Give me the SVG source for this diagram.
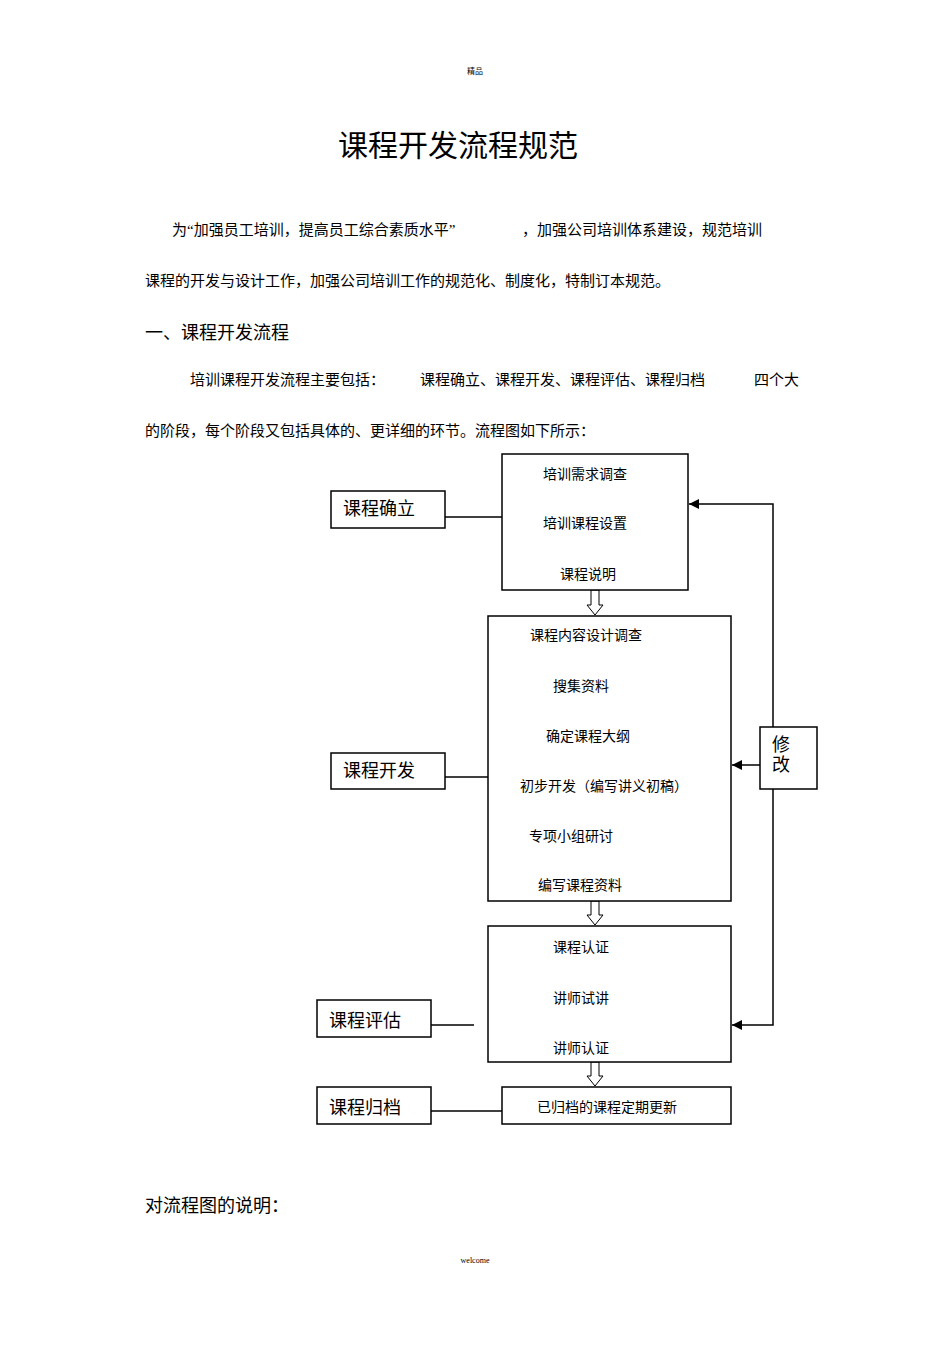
<svg xmlns="http://www.w3.org/2000/svg" width="950" height="1345" viewBox="0 0 950 1345">
<style>
text{font-family:"Liberation Serif","Noto Sans CJK SC",serif;fill:#000}
.s{font-size:14px}.m{font-size:15px}.l{font-size:18px}.t{font-size:30px}
.b{fill:#fff;stroke:#000;stroke-width:1.5}
.n{stroke:#000;stroke-width:1.5;fill:none}
.h{fill:#fff;stroke:#000;stroke-width:1}
</style>
<defs><marker id="a" viewBox="0 0 10 10" refX="10" refY="5" markerWidth="10" markerHeight="10" markerUnits="userSpaceOnUse" orient="auto"><path d="M0,0L10,5L0,10z" fill="#000"/></marker></defs>
<text x="475" y="74" font-size="8" text-anchor="middle">精品</text>
<text x="458" y="156" class="t" text-anchor="middle">课程开发流程规范</text>
<text x="172" y="235" class="m">为“加强员工培训，提高员工综合素质水平”</text>
<text x="522" y="235" class="m">，加强公司培训体系建设，规范培训</text>
<text x="145" y="286" class="m">课程的开发与设计工作，加强公司培训工作的规范化、制度化，特制订本规范。</text>
<text x="145" y="339" class="l">一、课程开发流程</text>
<text x="190" y="385" class="m">培训课程开发流程主要包括：</text>
<text x="420" y="385" class="m">课程确立、课程开发、课程评估、课程归档</text>
<text x="754" y="385" class="m">四个大</text>
<text x="145" y="436" class="m">的阶段，每个阶段又包括具体的、更详细的环节。流程图如下所示：</text>
<g id="connectors">
<line x1="445" y1="517" x2="502" y2="517" class="n" stroke-width="1"/>
<line x1="445" y1="777" x2="488" y2="777" class="n" stroke-width="1"/>
<line x1="431" y1="1025" x2="474" y2="1025" class="n" stroke-width="1"/>
<line x1="431" y1="1111" x2="502" y2="1111" class="n" stroke-width="2.5"/>
<polyline points="773,727 773,504 689,504" class="n" stroke-width="2.5" marker-end="url(#a)"/>
<polyline points="773,789 773,1025 732,1025" class="n" stroke-width="2.5" marker-end="url(#a)"/>
<line x1="760" y1="765" x2="732" y2="765" class="n" marker-end="url(#a)"/>
<line x1="588" y1="478" x2="588" y2="503" class="n" marker-end="url(#a)"/>
<line x1="588" y1="527" x2="588" y2="553" class="n" marker-end="url(#a)"/>
<line x1="588" y1="640" x2="588" y2="665" class="n" marker-end="url(#a)"/>
<line x1="588" y1="690" x2="588" y2="714" class="n" marker-end="url(#a)"/>
<line x1="588" y1="742" x2="588" y2="766" class="n" marker-end="url(#a)"/>
<line x1="588" y1="792" x2="588" y2="815" class="n" marker-end="url(#a)"/>
<line x1="588" y1="842" x2="588" y2="864" class="n" marker-end="url(#a)"/>
<line x1="589" y1="963" x2="589" y2="988" class="n" marker-end="url(#a)"/>
<line x1="589" y1="1013" x2="589" y2="1038" class="n" marker-end="url(#a)"/>
<path d="M591,590V605H587L595,615L603,605H599V590Z" class="h"/>
<path d="M591,901V915H587L595,925L603,915H599V901Z" class="h"/>
<path d="M591,1062V1076H587L595,1086L603,1076H599V1062Z" class="h"/>
</g>
<g id="n1"><rect x="502" y="454" width="186" height="136" class="b"/>
<text x="585" y="479" class="s" text-anchor="middle">培训需求调查</text>
<text x="585" y="528" class="s" text-anchor="middle">培训课程设置</text>
<text x="588" y="579" class="s" text-anchor="middle">课程说明</text></g>
<g id="n2"><rect x="488" y="616" width="243" height="285" class="b"/>
<text x="586" y="640" class="s" text-anchor="middle">课程内容设计调查</text>
<text x="581" y="691" class="s" text-anchor="middle">搜集资料</text>
<text x="588" y="741" class="s" text-anchor="middle">确定课程大纲</text>
<text x="604" y="791" class="s" text-anchor="middle">初步开发（编写讲义初稿）</text>
<text x="571" y="841" class="s" text-anchor="middle">专项小组研讨</text>
<text x="580" y="890" class="s" text-anchor="middle">编写课程资料</text></g>
<g id="n3"><rect x="488" y="926" width="243" height="136" class="b"/>
<text x="581" y="952" class="s" text-anchor="middle">课程认证</text>
<text x="581" y="1003" class="s" text-anchor="middle">讲师试讲</text>
<text x="581" y="1053" class="s" text-anchor="middle">讲师认证</text></g>
<g id="n4"><rect x="502" y="1087" width="229" height="37" class="b"/>
<text x="607" y="1112" class="s" text-anchor="middle">已归档的课程定期更新</text></g>
<g id="l1"><rect x="331" y="491" width="114" height="37" class="b"/><text x="343" y="515" class="l">课程确立</text></g>
<g id="l2"><rect x="331" y="753" width="114" height="36" class="b"/><text x="343" y="777" class="l">课程开发</text></g>
<g id="l3"><rect x="317" y="1000" width="114" height="37" class="b"/><text x="329" y="1027" class="l">课程评估</text></g>
<g id="l4"><rect x="317" y="1087" width="114" height="37" class="b"/><text x="329" y="1114" class="l">课程归档</text></g>
<g id="mod"><rect x="760" y="727" width="57" height="62" class="b"/><text x="772" y="751" class="l">修</text><text x="772" y="771" class="l">改</text></g>
<text x="145" y="1212" class="l">对流程图的说明：</text>
<text x="475" y="1263" font-size="8" text-anchor="middle">welcome</text>
</svg>
